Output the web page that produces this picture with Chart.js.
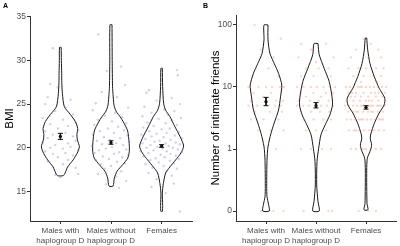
<!DOCTYPE html>
<html>
<head>
<meta charset="utf-8">
<script src="https://cdn.jsdelivr.net/npm/chart.js@4.4.0/dist/chart.umd.min.js"></script>
<style>
    html, body { margin: 0; padding: 0; background: #fff; }
    #wrap { position: relative; width: 400px; height: 246px; }
    canvas { position: absolute; top: 0; }
    #bmiChart { left: 0; }
    #friendsChart { left: 200px; }
</style>
</head>
<body>
<div id="wrap">
    <canvas id="bmiChart" width="200" height="246"></canvas>
    <canvas id="friendsChart" width="200" height="246"></canvas>
</div>
<script>
// Groups on the x axis (same for both panels)
var groupLabels = [['Males with', 'haplogroup D'], ['Males without', 'haplogroup D'], 'Females'];
var groupX = [1, 2, 3];

// ---- Panel A: BMI ----
var bmiTicks = [15, 20, 25, 30, 35];
// violin outline: BMI levels and half width (in group units) at each level
var bmiViolinY = [
    [31.5, 30, 28.5, 27.5, 26.2, 24.7, 23.8, 23.0, 22.2, 21.5, 20.9, 20.1, 19.35, 18.6, 17.8, 17.1, 16.8],
    [34.1, 30, 27, 26.1, 24.9, 24.2, 23.4, 22.6, 21.9, 20.7, 19.6, 18.8, 18.06, 17.3, 16.5, 15.6],
    [29.1, 27.0, 25.1, 24.3, 23.56, 22.4, 21.3, 20.2, 19.4, 18.6, 17.8, 17.1, 15.9, 14.8, 13.4, 12.7]
];
var bmiViolinW = [
    [0.016, 0.02, 0.026, 0.028, 0.04, 0.079, 0.198, 0.296, 0.342, 0.326, 0.336, 0.375, 0.33, 0.251, 0.144, 0.093, 0.059],
    [0.02, 0.024, 0.03, 0.04, 0.059, 0.099, 0.198, 0.277, 0.33, 0.356, 0.362, 0.33, 0.231, 0.119, 0.065, 0.04],
    [0.014, 0.02, 0.04, 0.079, 0.164, 0.263, 0.362, 0.435, 0.381, 0.277, 0.164, 0.079, 0.034, 0.014, 0.02, 0.014]
];
var bmiMean = [21.3, 20.6, 20.2];
var bmiSE = [0.35, 0.2, 0.15];
// jittered individuals: [jitter, BMI]
var bmiPoints = [
    [[-0.15,31.4],[-0.2,27.3],[-0.05,26.9],[-0.25,25.8],[0.2,25.5],[-0.3,25.0],[0.1,24.6],[-0.1,24.2],[0.25,23.8],[-0.35,23.4],[0.05,23.2],[0.3,22.9],[-0.2,22.7],[0.15,22.5],[-0.05,22.2],[0.35,22.0],[-0.3,21.9],[0.1,21.7],[-0.15,21.5],[0.25,21.3],[-0.25,21.1],[0.0,21.0],[0.3,20.8],[-0.35,20.6],[0.15,20.5],[-0.1,20.3],[0.2,20.1],[-0.2,20.0],[0.05,19.9],[0.35,19.7],[-0.3,19.6],[0.1,19.4],[-0.15,19.3],[0.25,19.1],[-0.05,18.9],[0.15,18.6],[-0.25,18.4],[0.05,18.1],[0.3,17.7],[0.35,17.0],[-0.1,16.9],[0.0,16.6]],
    [[-0.25,33.0],[0.2,29.3],[-0.08,28.8],[0.28,27.2],[-0.18,26.4],[0.12,25.8],[-0.3,25.1],[0.34,24.6],[-0.36,24.3],[0.08,24.0],[-0.12,23.7],[0.22,23.5],[-0.26,23.2],[0.02,23.0],[0.3,22.8],[-0.33,22.6],[0.14,22.4],[-0.06,22.2],[0.26,22.0],[-0.22,21.9],[0.06,21.7],[-0.36,21.5],[0.32,21.4],[-0.14,21.2],[0.18,21.1],[-0.02,20.9],[-0.28,20.8],[0.36,20.7],[0.1,20.5],[-0.18,20.4],[0.24,20.3],[-0.38,20.2],[0.02,20.1],[-0.1,19.9],[0.3,19.8],[-0.24,19.7],[0.16,19.5],[-0.32,19.4],[0.06,19.3],[0.34,19.1],[-0.16,19.0],[0.22,18.9],[-0.04,18.7],[-0.3,18.6],[0.12,18.4],[0.28,18.2],[-0.2,18.1],[0.0,17.9],[-0.12,17.6],[0.2,17.3],[-0.26,17.0],[0.1,16.7],[0.3,16.2],[-0.1,15.8],[0.16,15.4]],
    [[0.3,28.9],[0.32,28.3],[-0.25,26.6],[-0.3,26.3],[0.2,25.7],[-0.1,25.4],[0.36,25.0],[-0.34,24.7],[0.05,24.4],[0.25,24.2],[-0.2,24.0],[0.12,23.8],[-0.38,23.6],[0.38,23.4],[-0.06,23.3],[0.2,23.1],[-0.28,22.9],[0.08,22.8],[0.3,22.6],[-0.16,22.5],[-0.36,22.3],[0.16,22.2],[0.0,22.1],[-0.24,21.9],[0.34,21.8],[0.1,21.7],[-0.1,21.6],[-0.4,21.5],[0.26,21.4],[-0.2,21.3],[0.04,21.2],[0.4,21.1],[-0.32,21.0],[0.18,20.9],[-0.04,20.8],[-0.14,20.7],[0.28,20.6],[-0.38,20.5],[0.08,20.5],[0.36,20.4],[-0.22,20.3],[0.14,20.2],[-0.08,20.1],[0.22,20.0],[-0.3,20.0],[0.02,19.9],[0.32,19.8],[-0.16,19.7],[-0.42,19.6],[0.1,19.6],[0.4,19.5],[-0.26,19.4],[0.18,19.3],[-0.02,19.2],[0.28,19.1],[-0.36,19.0],[0.06,18.9],[-0.12,18.8],[0.34,18.7],[-0.22,18.6],[0.16,18.5],[-0.06,18.3],[0.24,18.2],[-0.32,18.1],[0.04,17.9],[-0.18,17.7],[0.3,17.6],[0.1,17.3],[-0.26,17.1],[0.2,16.8],[-0.1,16.4],[0.24,15.9],[-0.2,15.5],[0.08,14.8],[0.36,12.7]]
];

// ---- Panel B: number of intimate friends (log10 axis, 0 drawn at 0.1) ----
var friendTicks = [0.1, 1, 10, 100];
var friendTickLabels = ['0', '1', '10', '100'];
// violin outline in log10(friends) and half width (group units)
var friendViolinLog = [
    [2.0, 1.76, 1.54, 1.38, 1.22, 1.03, 0.84, 0.63, 0.42, 0.25, 0.04, -0.18, -0.6, -0.77, -0.9, -1.0],
    [1.70, 1.52, 1.30, 1.09, 0.87, 0.71, 0.55, 0.39, 0.23, 0.01, -0.2, -0.58, -0.85, -1.0],
    [1.79, 1.6, 1.38, 1.17, 0.98, 0.82, 0.71, 0.58, 0.41, 0.25, 0.17, 0.06, -0.04, -0.15, -0.34, -0.88, -0.98]
];
var friendViolinW = [
    [0.04, 0.04, 0.079, 0.164, 0.251, 0.316, 0.29, 0.251, 0.164, 0.099, 0.04, 0.02, 0.014, 0.02, 0.053, 0.065],
    [0.04, 0.065, 0.164, 0.263, 0.316, 0.33, 0.277, 0.184, 0.099, 0.053, 0.02, 0.014, 0.04, 0.065],
    [0.014, 0.034, 0.079, 0.164, 0.263, 0.375, 0.362, 0.263, 0.164, 0.099, 0.085, 0.113, 0.079, 0.026, 0.014, 0.02, 0.04]
];
var friendMean = [5.8, 5.0, 4.7];
var friendLow = [5.0, 4.6, 4.4];
var friendHigh = [6.8, 5.6, 5.0];
// individuals by answer: [friends, [jitter of each person]]
var friendPoints = [
    [[100,[-0.23]],[60,[0.3]],[40,[-0.1]],[30,[0.15]],[20,[-0.2,0.05]],[15,[0.25]],[12,[-0.3]],
     [10,[-0.35,-0.15,0.0,0.12,0.28,0.36]],[8,[-0.25,0.1,0.3]],[7,[-0.05]],[6,[-0.3,0.2,0.34]],
     [5,[-0.35,-0.18,0.02,0.18,0.3]],[4,[-0.22,0.08,0.32]],[3,[-0.3,-0.05,0.25]],[2,[-0.15,0.1,0.35]],
     [1,[0.2]],[0,[-0.1,0.15,0.35]]],
    [[50,[-0.3,0.2]],[40,[-0.1]],[30,[-0.35,0.35]],[25,[0.0]],[20,[-0.2,0.05,0.25]],[15,[-0.3,-0.05,0.3]],
     [10,[-0.38,-0.25,-0.1,0.02,0.15,0.28,0.38]],[8,[-0.3,-0.05,0.2,0.35]],[7,[-0.2,0.1]],
     [6,[-0.35,-0.12,0.05,0.25]],[5,[-0.38,-0.26,-0.14,-0.02,0.1,0.22,0.34]],[4,[-0.3,-0.1,0.08,0.26]],
     [3,[-0.25,-0.05,0.15,0.3]],[2,[-0.2,0.0,0.2]],[1,[-0.3,-0.1,0.12,0.3]],[0,[-0.25,0.25,0.32]]],
    [[60,[-0.05]],[50,[0.1]],[40,[-0.2,0.25]],[30,[-0.3,0.05,0.3]],[20,[-0.35,-0.15,0.0,0.2,0.35]],
     [15,[-0.25,-0.05,0.15,0.3]],[12,[-0.1,0.22]],
     [10,[-0.4,-0.32,-0.24,-0.16,-0.08,0.0,0.08,0.16,0.24,0.32,0.4,-0.12]],
     [8,[-0.35,-0.2,-0.05,0.1,0.25,0.38,-0.28,0.18]],[7,[-0.3,-0.1,0.05,0.2,0.33,-0.22]],
     [6,[-0.38,-0.25,-0.12,0.0,0.12,0.25,0.38,0.06]],
     [5,[-0.42,-0.34,-0.26,-0.18,-0.1,-0.02,0.06,0.14,0.22,0.3,0.38,-0.06,0.1,0.26]],
     [4,[-0.36,-0.26,-0.16,-0.06,0.04,0.14,0.24,0.34,-0.2,0.1]],
     [3,[-0.38,-0.3,-0.22,-0.14,-0.06,0.02,0.1,0.18,0.26,0.34,-0.1,0.3]],
     [2,[-0.34,-0.24,-0.14,-0.04,0.06,0.16,0.26,0.36,-0.2,0.12]],
     [1,[-0.3,-0.2,-0.1,0.0,0.1,0.2,0.3,-0.05]],[0,[-0.15,0.05,0.2]]]
];

var FONT = "'Liberation Sans', Arial, sans-serif";

// 0 friends is drawn where 0.1 would be
function logF(v) { return Math.log10(Math.max(v, 0.1)); }

// Closed outline: down the right side, back up the left side
function violinOutline(cx, ys, ws) {
    var pts = [];
    for (var i = 0; i < ys.length; i++) pts.push({ x: cx + ws[i], y: ys[i] });
    for (var j = ys.length - 1; j >= 0; j--) pts.push({ x: cx - ws[j], y: ys[j] });
    pts.push({ x: cx + ws[0], y: ys[0] });
    return pts;
}

// Error bar with caps, gaps (null) between the pieces
function errorBarPoints(cx, lo, hi, cap) {
    return [
        { x: cx - cap, y: hi }, { x: cx + cap, y: hi }, { x: cx, y: null },
        { x: cx, y: hi }, { x: cx, y: lo }, { x: cx, y: null },
        { x: cx - cap, y: lo }, { x: cx + cap, y: lo }
    ];
}

// Panel letter in the top left corner
function panelLetter(letter) {
    return {
        id: 'panelLetter' + letter,
        afterDraw: function (chart) {
            var ctx = chart.ctx;
            ctx.save();
            ctx.font = 'bold 7px ' + FONT;
            ctx.fillStyle = '#000';
            ctx.textBaseline = 'alphabetic';
            ctx.fillText(letter, 3, 8);
            ctx.restore();
        }
    };
}

function buildPanel(canvasId, p) {
    var datasets = [];

    // jittered individuals first so they sit under the outlines
    datasets.push({
        data: p.points,
        pointRadius: 1.2,
        pointBorderWidth: 0,
        pointBackgroundColor: p.pointColor,
        showLine: false
    });

    p.violins.forEach(function (v) {
        datasets.push({
            data: v,
            showLine: true,
            fill: false,
            borderColor: '#1a1a1a',
            borderWidth: 1,
            tension: 0.25,
            pointRadius: 0
        });
    });

    datasets.push({
        data: p.errorBars,
        showLine: true,
        spanGaps: false,
        borderColor: '#111',
        borderWidth: 1,
        pointRadius: 0
    });

    datasets.push({
        data: p.means,
        showLine: false,
        pointRadius: 1.6,
        pointBorderWidth: 0,
        pointBackgroundColor: '#000'
    });

    return new Chart(document.getElementById(canvasId), {
        type: 'scatter',
        data: { datasets: datasets },
        options: {
            responsive: false,
            animation: false,
            layout: { padding: { top: p.top, right: p.right, left: 0, bottom: 0 } },
            plugins: {
                legend: { display: false },
                tooltip: { enabled: false }
            },
            scales: {
                x: {
                    type: 'linear',
                    min: 0.4,
                    max: 3.6,
                    afterBuildTicks: function (s) { s.ticks = groupX.map(function (v) { return { value: v }; }); },
                    afterFit: function (s) { s.height = 25; },
                    grid: { display: true, drawOnChartArea: false, drawTicks: true, tickLength: 3, color: '#333' },
                    border: { display: true, color: '#333', width: 1 },
                    ticks: {
                        padding: 2,
                        maxRotation: 0,
                        autoSkip: false,
                        color: '#4d4d4d',
                        font: { size: 8, family: FONT, lineHeight: 1.2 },
                        callback: function (value) { return groupLabels[groupX.indexOf(value)]; }
                    }
                },
                y: {
                    type: 'linear',
                    min: p.yMin,
                    max: p.yMax,
                    afterBuildTicks: function (s) { s.ticks = p.yTicks.map(function (v) { return { value: v }; }); },
                    afterFit: function (s) { s.width = p.axisWidth; },
                    grid: { display: true, drawOnChartArea: false, drawTicks: true, tickLength: 3, color: '#333' },
                    border: { display: true, color: '#333', width: 1 },
                    ticks: {
                        padding: 1,
                        color: '#4d4d4d',
                        font: { size: 8.5, family: FONT },
                        callback: p.tickLabel
                    },
                    title: {
                        display: true,
                        text: p.title,
                        color: '#000',
                        font: { size: 11.5, family: FONT },
                        padding: { top: p.titlePad, bottom: 0 }
                    }
                }
            }
        },
        plugins: [panelLetter(p.letter)]
    });
}

// Panel A
var bmiJitter = [];
var bmiMeanPts = [];
var bmiErrPts = [];
var bmiOutlines = [];
groupX.forEach(function (cx, g) {
    bmiPoints[g].forEach(function (d) { bmiJitter.push({ x: cx + d[0], y: d[1] }); });
    bmiOutlines.push(violinOutline(cx, bmiViolinY[g], bmiViolinW[g]));
    bmiErrPts = bmiErrPts.concat(errorBarPoints(cx, bmiMean[g] - bmiSE[g], bmiMean[g] + bmiSE[g], 0.05));
    bmiErrPts.push({ x: cx, y: null });
    bmiMeanPts.push({ x: cx, y: bmiMean[g] });
});

buildPanel('bmiChart', {
    letter: 'A',
    points: bmiJitter,
    pointColor: 'rgba(85, 85, 190, 0.28)',
    violins: bmiOutlines,
    errorBars: bmiErrPts,
    means: bmiMeanPts,
    yMin: 11.6,
    yMax: 35.1,
    yTicks: bmiTicks,
    tickLabel: function (v) { return String(v); },
    title: 'BMI',
    titlePad: 3,
    axisWidth: 30,
    top: 16,
    right: 8
});

// Panel B
var frJitter = [];
var frMeanPts = [];
var frErrPts = [];
var frOutlines = [];
groupX.forEach(function (cx, g) {
    friendPoints[g].forEach(function (row) {
        row[1].forEach(function (dx) { frJitter.push({ x: cx + dx, y: logF(row[0]) }); });
    });
    frOutlines.push(violinOutline(cx, friendViolinLog[g], friendViolinW[g]));
    frErrPts = frErrPts.concat(errorBarPoints(cx, logF(friendLow[g]), logF(friendHigh[g]), 0.05));
    frErrPts.push({ x: cx, y: null });
    frMeanPts.push({ x: cx, y: logF(friendMean[g]) });
});

buildPanel('friendsChart', {
    letter: 'B',
    points: frJitter,
    pointColor: 'rgba(225, 90, 55, 0.24)',
    violins: frOutlines,
    errorBars: frErrPts,
    means: frMeanPts,
    yMin: -1.161,
    yMax: 2.161,
    yTicks: friendTicks.map(logF),
    tickLabel: function (v) {
        var i = friendTicks.map(logF).findIndex(function (t) { return Math.abs(t - v) < 1e-6; });
        return i >= 0 ? friendTickLabels[i] : '';
    },
    title: 'Number of intimate friends',
    titlePad: 9,
    axisWidth: 36,
    top: 15,
    right: 1
});
</script>
</body>
</html>
